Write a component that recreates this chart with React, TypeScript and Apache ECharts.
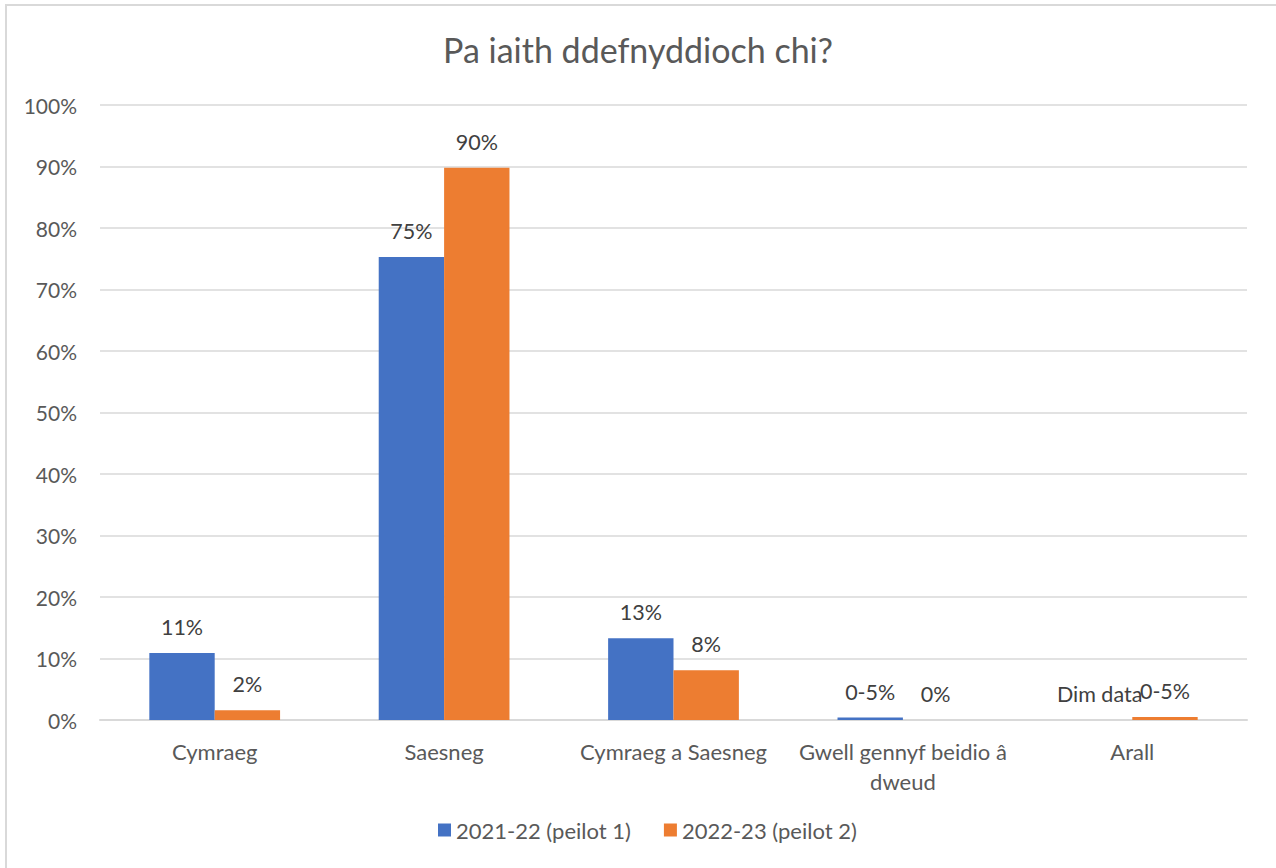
import React, { useEffect, useRef } from "react";
import * as echarts from "echarts";

const categories = ["Cymraeg", "Saesneg", "Cymraeg a Saesneg", "Gwell gennyf beidio â\ndweud", "Arall"];
const seriesNames = ["2021-22 (peilot 1)", "2022-23 (peilot 2)"];
const values2122 = [10.9, 75.3, 13.3, 0.4, 0];
const values2223 = [1.6, 89.8, 8.1, 0, 0.5];
const labels2122 = ["11%", "75%", "13%", "0-5%", "Dim data"];
const labels2223 = ["2%", "90%", "8%", "0%", "0-5%"];
const yTicks = [0, 10, 20, 30, 40, 50, 60, 70, 80, 90, 100];

const FONT = "Lato, 'Open Sans', sans-serif";

export default function App() {
  const ref = useRef<HTMLDivElement>(null);
  useEffect(() => {
    if (!ref.current) return;
    const chart = echarts.init(ref.current, undefined, { renderer: "svg" });
    const mk = (name: string, vals: number[], labs: string[], color: string) => ({
      name,
      type: "bar",
      data: vals,
      barGap: "0%",
      barCategoryGap: "43%",
      itemStyle: { color },
      label: {
        show: true,
        position: "top",
        distance: 15,
        color: "#404040",
        fontFamily: FONT,
        fontSize: 21.5,
        formatter: (p: any) => labs[p.dataIndex],
      },
    });
    chart.setOption({
      animation: false,
      backgroundColor: "#ffffff",
      textStyle: { fontFamily: FONT },
      title: {
        text: "Pa iaith ddefnyddioch chi?",
        left: "center",
        top: 27,
        textStyle: { fontFamily: FONT, fontSize: 34, fontWeight: "normal", color: "#595959" },
      },
      graphic: [
        {
          type: "rect",
          shape: { x: 6, y: 5, width: 1300, height: 900 },
          style: { fill: "none", stroke: "#d9d9d9", lineWidth: 2 },
          silent: true,
        },
      ],
      legend: {
        bottom: 22,
        left: 433,
        itemWidth: 13,
        itemHeight: 13,
        itemGap: 33,
        icon: "rect",
        textStyle: { fontFamily: FONT, fontSize: 22, color: "#595959" },
        data: seriesNames,
      },
      grid: { left: 100, right: 29, top: 105, bottom: 148, containLabel: false },
      xAxis: {
        type: "category",
        data: categories,
        axisLine: { lineStyle: { color: "#d9d9d9", width: 2 } },
        axisTick: { show: false },
        axisLabel: { fontFamily: FONT, fontSize: 22, color: "#595959", margin: 16, lineHeight: 30, interval: 0 },
      },
      yAxis: {
        type: "value",
        min: yTicks[0],
        max: yTicks[yTicks.length - 1],
        interval: 10,
        axisLine: { show: false },
        axisTick: { show: false },
        splitLine: { lineStyle: { color: "#d9d9d9", width: 1.5 } },
        axisLabel: { fontFamily: FONT, fontSize: 21, color: "#595959", margin: 23, formatter: "{value}%" },
      },
      series: [
        mk(seriesNames[0], values2122, labels2122, "#4472C4"),
        mk(seriesNames[1], values2223, labels2223, "#ED7D31"),
      ],
    });
    return () => chart.dispose();
  }, []);
  return <div ref={ref} style={{ position: "fixed", left: 0, top: 0, width: 1276, height: 868 }} />;
}
